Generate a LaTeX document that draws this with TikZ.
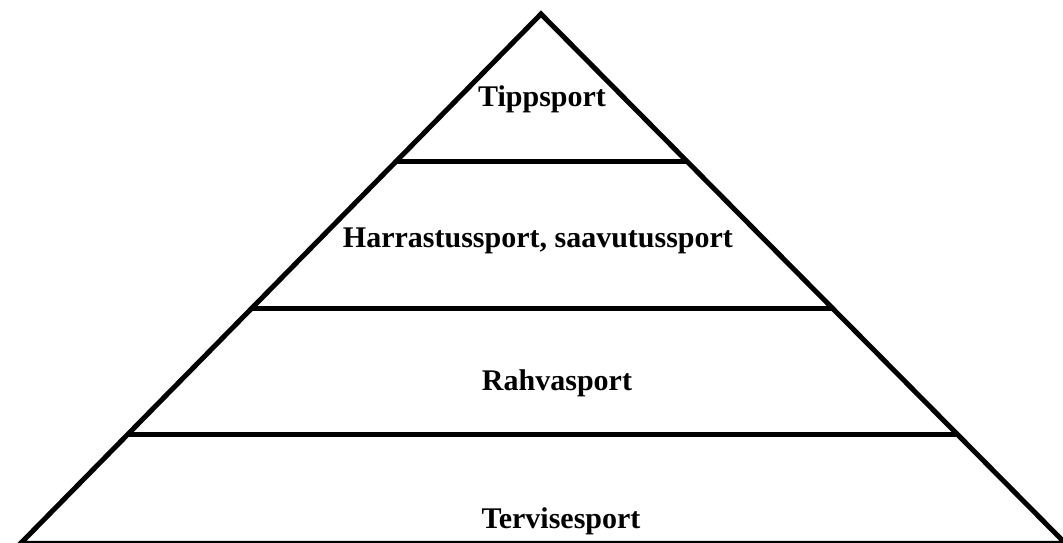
\documentclass[tikz,border=0pt]{standalone}
\usepackage{fontspec}
\setmainfont{Liberation Serif}
\usetikzlibrary{calc}
\begin{document}
\begin{tikzpicture}[x=1pt,y=1pt,
  edge/.style={line width=5pt,line join=miter,black},
  label/.style={anchor=base,font=\bfseries\fontsize{30}{33}\selectfont,inner sep=0pt}]
\useasboundingbox (0,0) rectangle (1063,543);
\clip (0,0) rectangle (1063,543);
\coordinate (apex) at (541,529);
\coordinate (bl) at (20.5,-0.5);
\coordinate (br) at (1065.5,-0.5);
\draw[edge] (bl) -- (apex) -- (br) -- cycle;
\coordinate (l1) at ($(apex)!0.2795!(bl)$);
\coordinate (r1) at ($(apex)!0.2795!(br)$);
\coordinate (l2) at ($(apex)!0.557!(bl)$);
\coordinate (r2) at ($(apex)!0.557!(br)$);
\coordinate (l3) at ($(apex)!0.795!(bl)$);
\coordinate (r3) at ($(apex)!0.795!(br)$);
\draw[edge] (l1) -- (r1);
\draw[edge] (l2) -- (r2);
\draw[edge] (l3) -- (r3);
\node[label] (t1) at (542,436) {Tippsport};
\node[label] (t2) at (538,295) {Harrastussport, saavutussport};
\node[label] (t3) at (557,152) {Rahvasport};
\node[label] (t4) at (561,14) {Tervisesport};
\end{tikzpicture}
\end{document}
